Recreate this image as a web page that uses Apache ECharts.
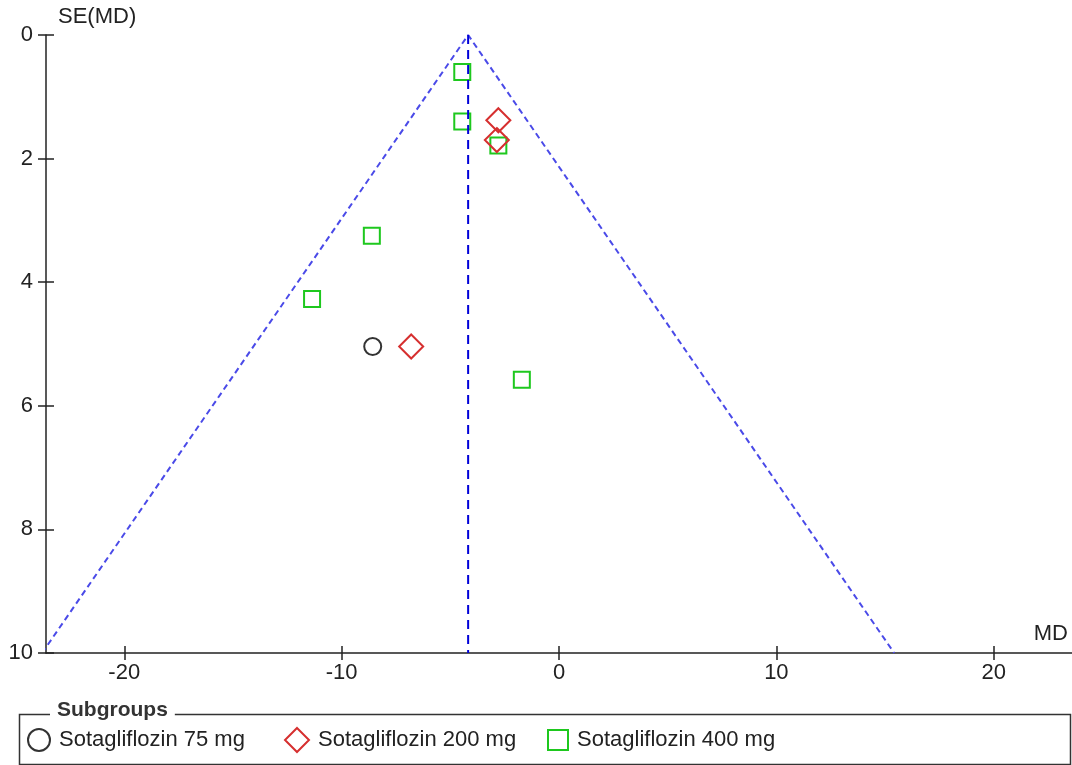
<!DOCTYPE html>
<html>
<head>
<meta charset="utf-8">
<script src="https://cdn.jsdelivr.net/npm/echarts@6/dist/echarts.min.js"></script>
<style>
html,body{margin:0;padding:0;background:#fff;}
#chart{width:1072px;height:765px;}
</style>
</head>
<body>
<div id="chart"></div>
<script>
// ---- data ----
var seriesNames = ['Sotagliflozin 75 mg', 'Sotagliflozin 200 mg', 'Sotagliflozin 400 mg'];
var md75 = [-8.57];
var se75 = [5.04];
var md200 = [-2.79, -2.86, -6.80];
var se200 = [1.38, 1.70, 5.04];
var md400 = [-4.45, -4.45, -2.79, -8.61, -11.36, -1.71];
var se400 = [0.60, 1.40, 1.79, 3.25, 4.27, 5.58];
var pooledMD = -4.18;
var funnelMD = [-23.78, -4.18, 15.42];
var funnelSE = [10, 0, 10];
var xTicks = [-20, -10, 0, 10, 20];
var yTicks = [0, 2, 4, 6, 8, 10];

function pairs(xs, ys) { return xs.map(function (x, i) { return [x, ys[i]]; }); }

var FONT = 'Liberation Sans';
var FS = 22;
var axisColor = '#222';
var col75 = '#333', col200 = '#d62f2f', col400 = '#1ec81e';
var hollow = 'rgba(0,0,0,0)';
var legendMid = 739;

function legendFor(name, icon, color, left, w) {
  return {
    left: left, top: legendMid - 5 - w / 2, itemWidth: w, itemHeight: w,
    textStyle: { color: '#222', fontFamily: FONT, fontSize: FS, padding: [0, 0, 0, 4] },
    data: [{ name: name, icon: icon, itemStyle: { color: hollow, borderColor: color, borderWidth: 2 } }]
  };
}

var chart = echarts.init(document.getElementById('chart'));
var option = {
  backgroundColor: '#fff',
  animation: false,
  grid: { left: 46, right: 0, top: 35, bottom: 112, containLabel: false },
  xAxis: [{
    type: 'value', min: -23.6, max: 23.6,
    axisLine: { show: true, onZero: false, lineStyle: { color: axisColor, width: 1.5 } },
    axisTick: { show: true, inside: false, length: 7, customValues: xTicks, lineStyle: { color: axisColor, width: 1.5 } },
    axisLabel: { show: true, customValues: xTicks, margin: 9, color: axisColor, fontFamily: FONT, fontSize: FS },
    splitLine: { show: false }
  }, {
    type: 'value', min: -23.6, max: 23.6, position: 'bottom',
    axisLine: { show: false, onZero: false },
    axisTick: { show: true, inside: true, length: 7, customValues: xTicks, lineStyle: { color: axisColor, width: 1.5 } },
    axisLabel: { show: false },
    splitLine: { show: false }
  }],
  yAxis: [{
    type: 'value', min: 0, max: 10, inverse: true,
    axisLine: { show: true, onZero: false, lineStyle: { color: axisColor, width: 1.5 } },
    axisTick: { show: true, inside: false, length: 8, customValues: yTicks, lineStyle: { color: axisColor, width: 1.5 } },
    axisLabel: { show: true, customValues: yTicks, margin: 13, color: axisColor, fontFamily: FONT, fontSize: FS },
    splitLine: { show: false }
  }, {
    type: 'value', min: 0, max: 10, inverse: true, position: 'left',
    axisLine: { show: false, onZero: false },
    axisTick: { show: true, inside: true, length: 8, customValues: yTicks, lineStyle: { color: axisColor, width: 1.5 } },
    axisLabel: { show: false },
    splitLine: { show: false }
  }],
  legend: [
    legendFor(seriesNames[0], 'circle', col75, 22, 22),
    legendFor(seriesNames[1], 'diamond', col200, 279, 24),
    legendFor(seriesNames[2], 'rect', col400, 542, 20)
  ],
  graphic: [
    { type: 'rect', left: 17, top: 712, shape: { width: 1051, height: 50 }, style: { fill: 'none', stroke: '#333', lineWidth: 1.5 }, silent: true },
    { type: 'text', left: 50, top: 700, style: { text: 'Subgroups', font: 'bold 21px "Liberation Sans"', fill: '#333', backgroundColor: '#fff', padding: [0, 7, 0, 7] } },
    { type: 'text', left: 58, top: 6, style: { text: 'SE(MD)', font: '22px "Liberation Sans"', fill: '#222' } },
    { type: 'text', right: 4, top: 623, style: { text: 'MD', font: '22px "Liberation Sans"', fill: '#222' } }
  ],
  series: [
    {
      type: 'line', name: 'funnel', data: pairs(funnelMD, funnelSE), symbol: 'none', clip: true,
      lineStyle: { color: '#4a4ae8', width: 2, type: [6, 4] }, silent: true
    },
    {
      type: 'line', name: 'pooled', data: [[pooledMD, 0], [pooledMD, 10]], symbol: 'none', clip: true,
      lineStyle: { color: '#0000d8', width: 2, type: [9, 6] }, silent: true
    },
    {
      type: 'scatter', name: seriesNames[2], data: pairs(md400, se400), symbol: 'rect', symbolSize: 16,
      itemStyle: { color: hollow, borderColor: col400, borderWidth: 2, opacity: 1 }
    },
    {
      type: 'scatter', name: seriesNames[1], data: pairs(md200, se200), symbol: 'diamond', symbolSize: 24,
      itemStyle: { color: hollow, borderColor: col200, borderWidth: 2, opacity: 1 }
    },
    {
      type: 'scatter', name: seriesNames[0], data: pairs(md75, se75), symbol: 'circle', symbolSize: 17,
      itemStyle: { color: hollow, borderColor: col75, borderWidth: 2, opacity: 1 }
    }
  ]
};
chart.setOption(option);
</script>
</body>
</html>
